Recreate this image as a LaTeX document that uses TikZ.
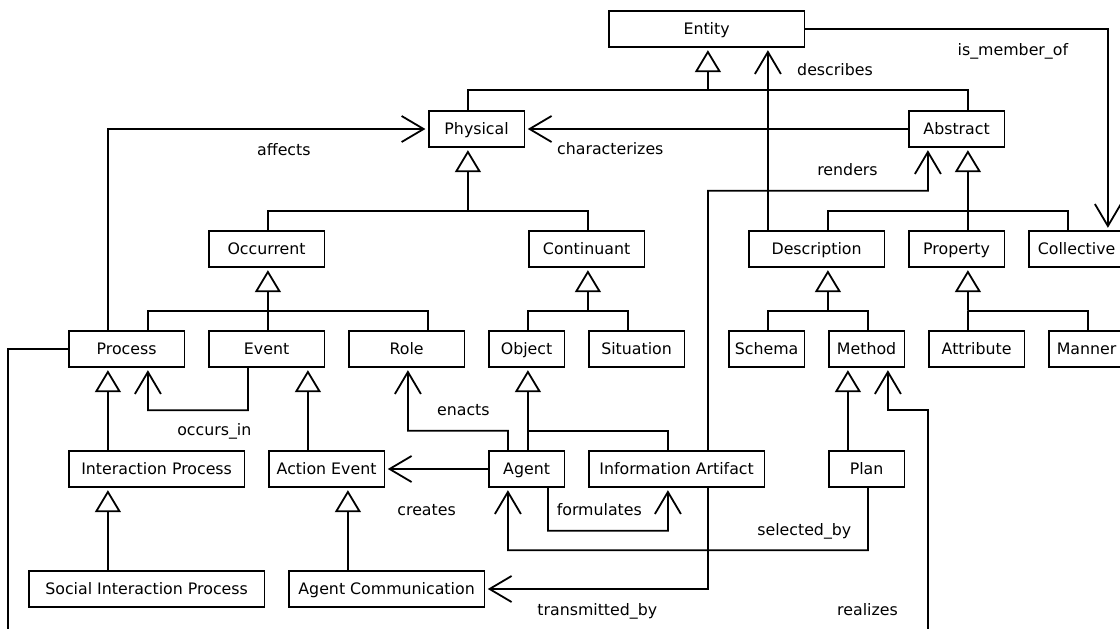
\documentclass[tikz,border=0pt]{standalone}
\usepackage{fontspec}
\setmainfont{DejaVu Sans}
\usetikzlibrary{arrows.meta}
\tikzset{
  cls/.style={draw, line width=1.8pt, minimum height=35.6pt, inner sep=0pt,
    text height=11.6pt, text depth=0pt, font=\fontsize{15.8}{19}\selectfont},
  cols/.style={minimum width={#1*20pt-4.4pt}},
  conn/.style={line width=1.8pt},
  inh/.style={conn, -{Triangle[open, length=22pt, width=26pt]}, shorten >=2.5pt},
  assoc/.style={conn, -{Straight Barb[length=22pt, width=26pt]}, shorten >=2.5pt},
  rel/.style={font=\fontsize{15.8}{19}\selectfont, inner sep=0pt,
    text height=12pt, text depth=0pt}
}
\begin{document}
\begin{tikzpicture}[x=1pt, y=-1pt]
  \useasboundingbox (0,0) rectangle (1120,629);
  \clip (0,0) rectangle (1120,629);

  % classes
  \node[cls, cols=10] (ent) at (706.6,29) {Entity};
  \node[cls, cols=5] (phys) at (476.6,129) {Physical};
  \node[cls, cols=5] (abst) at (956.6,129) {Abstract};
  \node[cls, cols=6] (occ) at (266.6,249) {Occurrent};
  \node[cls, cols=6] (cont) at (586.6,249) {Continuant};
  \node[cls, cols=7] (desc) at (816.6,249) {Description};
  \node[cls, cols=5] (prop) at (956.6,249) {Property};
  \node[cls, cols=5] (coll) at (1076.6,249) {Collective};
  \node[cls, cols=6] (proc) at (126.6,349) {Process};
  \node[cls, cols=6] (evt) at (266.6,349) {Event};
  \node[cls, cols=6] (role) at (406.6,349) {Role};
  \node[cls, cols=4] (obj) at (526.6,349) {Object};
  \node[cls, cols=5] (sit) at (636.6,349) {Situation};
  \node[cls, cols=4] (schema) at (766.6,349) {Schema};
  \node[cls, cols=4] (meth) at (866.6,349) {Method};
  \node[cls, cols=5] (attr) at (976.6,349) {Attribute};
  \node[cls, cols=4] (mann) at (1086.6,349) {Manner};
  \node[cls, cols=9] (iproc) at (156.6,469) {Interaction Process};
  \node[cls, cols=6] (aevt) at (326.6,469) {Action Event};
  \node[cls, cols=4] (agent) at (526.6,469) {Agent};
  \node[cls, cols=9] (info) at (676.6,469) {Information Artifact};
  \node[cls, cols=4] (plan) at (866.6,469) {Plan};
  \node[cls, cols=12] (sip) at (146.6,589) {Social Interaction Process};
  \node[cls, cols=10] (acomm) at (386.6,589) {Agent Communication};

  % junctions and bends
  \coordinate (jent) at (707.9,90.3);
  \coordinate (jphys) at (467.9,210.7);
  \coordinate (jabst) at (967.9,210.7);
  \coordinate (jocc) at (267.9,310.7);
  \coordinate (jcont) at (587.9,310.7);
  \coordinate (jdesc) at (827.9,310.7);
  \coordinate (jprop) at (967.9,310.7);
  \coordinate (jobj) at (527.9,430.7);
  \coordinate (rendbend) at (707.9,190.7);
  \coordinate (occbend) at (247.9,410.3);
  \coordinate (enbend) at (507.9,430.7);
  \coordinate (formbend) at (547.9,530.7);
  \coordinate (selbend) at (867.9,550.3);
  \coordinate (realbend) at (927.9,410.3);
  \coordinate (realend) at (927.9,640);
  \coordinate (procend) at (7.9,640);

  % generalisation
  \draw[inh] (jent) -- ([xshift=1.3pt]ent.south);
  \draw[conn] ([xshift=-8.7pt]phys.north) |- (jent) -| ([xshift=11.3pt]abst.north);
  \draw[inh] (jphys) -- ([xshift=-8.7pt]phys.south);
  \draw[conn] ([xshift=1.3pt]occ.north) |- (jphys) -| ([xshift=1.3pt]cont.north);
  \draw[inh] (jabst) -- ([xshift=11.3pt]abst.south);
  \draw[conn] ([xshift=11.3pt]desc.north) |- (jabst) -| ([xshift=-8.7pt]coll.north);
  \draw[conn] (jabst) -- ([xshift=11.3pt]prop.north);
  \draw[inh] (jocc) -- ([xshift=1.3pt]occ.south);
  \draw[conn] ([xshift=21.3pt]proc.north) |- (jocc) -| ([xshift=21.3pt]role.north);
  \draw[conn] (jocc) -- ([xshift=1.3pt]evt.north);
  \draw[inh] (jcont) -- ([xshift=1.3pt]cont.south);
  \draw[conn] ([xshift=1.3pt]obj.north) |- (jcont) -| ([xshift=-8.7pt]sit.north);
  \draw[inh] (jdesc) -- ([xshift=11.3pt]desc.south);
  \draw[conn] ([xshift=1.3pt]schema.north) |- (jdesc) -| ([xshift=1.3pt]meth.north);
  \draw[inh] (jprop) -- ([xshift=11.3pt]prop.south);
  \draw[conn] ([xshift=-8.7pt]attr.north) |- (jprop) -| ([xshift=1.3pt]mann.north);
  \draw[inh] ([xshift=-48.7pt]iproc.north) -- ([xshift=-18.7pt]proc.south);
  \draw[inh] ([xshift=-38.7pt]sip.north) -- ([xshift=-48.7pt]iproc.south);
  \draw[inh] ([xshift=-18.7pt]aevt.north) -- ([xshift=41.3pt]evt.south);
  \draw[inh] ([xshift=-38.7pt]acomm.north) -- ([xshift=21.3pt]aevt.south);
  \draw[inh] ([xshift=1.3pt]agent.north) -- ([xshift=1.3pt]obj.south);
  \draw[conn] ([xshift=-8.7pt]info.north) |- (jobj);
  \draw[inh] ([xshift=-18.7pt]plan.north) -- ([xshift=-18.7pt]meth.south);

  % associations
  \draw[assoc] ([xshift=-18.7pt]proc.north) |- (phys.west);
  \draw[assoc] (abst.west) -- (phys.east);
  \draw[assoc] ([xshift=-48.7pt]desc.north) -- ([xshift=61.3pt]ent.south);
  \draw[assoc] (ent.east) -| ([xshift=31.3pt]coll.north);
  \draw[assoc] ([xshift=31.3pt]info.north) -- (rendbend) -| ([xshift=-28.7pt]abst.south);
  \draw[assoc] ([xshift=-18.7pt]evt.south) -- (occbend) -| ([xshift=21.3pt]proc.south);
  \draw[assoc] ([xshift=-18.7pt]agent.north) -- (enbend) -| ([xshift=1.3pt]role.south);
  \draw[assoc] (agent.west) -- (aevt.east);
  \draw[assoc] ([xshift=21.3pt]agent.south) -- (formbend) -| ([xshift=-8.7pt]info.south);
  \draw[assoc] ([xshift=1.3pt]plan.south) -- (selbend) -| ([xshift=-18.7pt]agent.south);
  \draw[assoc] ([xshift=31.3pt]info.south) |- (acomm.east);
  \draw[assoc] (realend) -- (realbend) -| ([xshift=21.3pt]meth.south);
  \draw[conn] (proc.west) -| (procend);

  % association names
  \node[rel] (laff) at (283.9,149.3) {affects};
  \node[rel] (lchar) at (610.3,148.7) {characterizes};
  \node[rel] (ldesc) at (835,69) {describes};
  \node[rel] (lmem) at (1012.9,49) {is\_member\_of};
  \node[rel] (lrend) at (847.5,169) {renders};
  \node[rel] (locc) at (214.3,429.3) {occurs\_in};
  \node[rel] (lenact) at (463.4,409.3) {enacts};
  \node[rel] (lcreat) at (426.6,509) {creates};
  \node[rel] (lform) at (599.3,509) {formulates};
  \node[rel] (lsel) at (804.3,529.3) {selected\_by};
  \node[rel] (ltrans) at (597.3,609) {transmitted\_by};
  \node[rel] (lreal) at (867.5,609) {realizes};
\end{tikzpicture}
\end{document}
